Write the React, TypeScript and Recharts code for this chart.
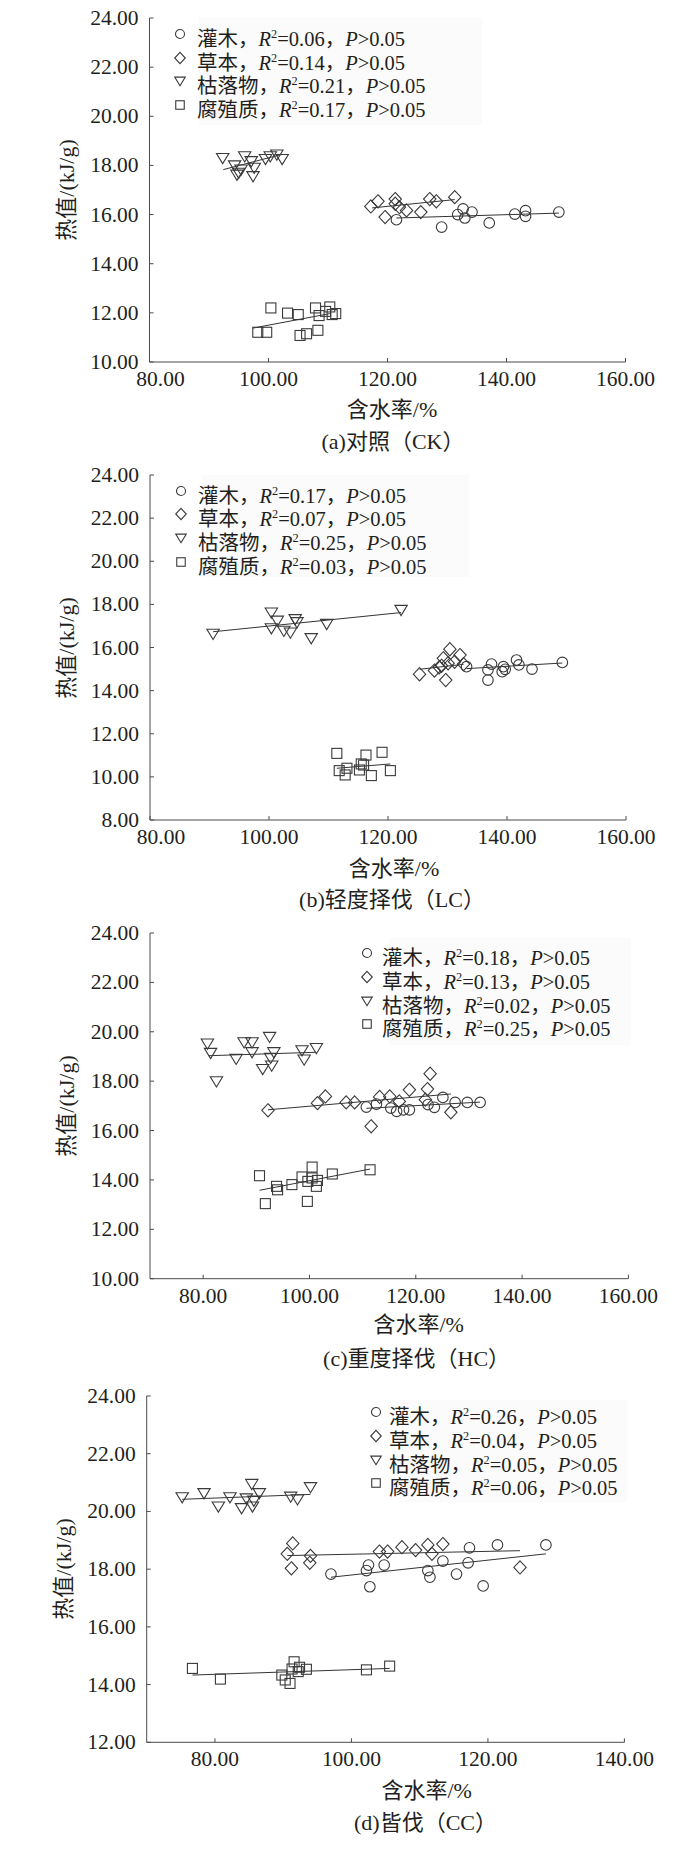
import React from 'react';
import { ScatterChart, Scatter, XAxis, YAxis, ReferenceLine } from 'recharts';

const FONT = "'Liberation Serif','Times New Roman','Noto Sans CJK SC',serif";
const INK = '#231f20';
const AXIS = '#4a4a4a';
const MARK = '#3a3a3a';

type Pt = { x: number; y: number };

// ---------- series names ----------
const SERIES_NAMES = ['灌木', '草本', '枯落物', '腐殖质'];

// ---------- (a) CK ----------
const CK_SHRUB: Pt[] = [
  { x: 121.5, y: 15.79 }, { x: 129.1, y: 15.49 }, { x: 131.8, y: 16.0 }, { x: 132.7, y: 16.23 },
  { x: 133.0, y: 15.86 }, { x: 134.2, y: 16.1 }, { x: 137.1, y: 15.66 }, { x: 141.4, y: 16.02 },
  { x: 143.2, y: 16.16 }, { x: 143.2, y: 15.93 }, { x: 148.8, y: 16.1 },
];
const CK_HERB: Pt[] = [
  { x: 117.2, y: 16.33 }, { x: 118.4, y: 16.54 }, { x: 119.6, y: 15.9 }, { x: 121.3, y: 16.63 },
  { x: 121.3, y: 16.44 }, { x: 122.0, y: 16.3 }, { x: 123.2, y: 16.17 }, { x: 125.6, y: 16.1 },
  { x: 127.1, y: 16.63 }, { x: 128.2, y: 16.54 }, { x: 131.3, y: 16.71 },
];
const CK_LITTER: Pt[] = [
  { x: 92.3, y: 18.3 }, { x: 94.3, y: 18.0 }, { x: 94.7, y: 17.62 }, { x: 95.0, y: 17.7 },
  { x: 95.4, y: 17.83 }, { x: 96.0, y: 18.37 }, { x: 97.1, y: 18.17 }, { x: 97.4, y: 17.56 },
  { x: 97.6, y: 17.9 }, { x: 99.5, y: 18.26 }, { x: 100.3, y: 18.37 }, { x: 101.4, y: 18.44 },
  { x: 102.3, y: 18.26 },
];
const CK_HUMUS: Pt[] = [
  { x: 98.2, y: 11.21 }, { x: 99.7, y: 11.21 }, { x: 100.4, y: 12.2 }, { x: 103.2, y: 11.99 },
  { x: 105.0, y: 11.93 }, { x: 105.3, y: 11.08 }, { x: 106.4, y: 11.15 }, { x: 107.9, y: 12.2 },
  { x: 108.3, y: 11.29 }, { x: 108.5, y: 11.89 }, { x: 109.6, y: 12.06 }, { x: 110.3, y: 12.24 },
  { x: 110.7, y: 11.93 }, { x: 111.3, y: 11.97 },
];
// trend lines: [x1, y1, x2, y2] for shrub, herb, litter, humus
const CK_TRENDS = [
  [121.5, 15.86, 148.8, 16.06],
  [117.4, 16.27, 131.3, 16.61],
  [92.4, 17.83, 102.1, 18.44],
  [97.4, 11.38, 110.3, 11.97],
];
const CK_R2 = ['0.06', '0.14', '0.21', '0.17'];

// ---------- (b) LC ----------
const LC_SHRUB: Pt[] = [
  { x: 133.2, y: 15.11 }, { x: 136.8, y: 14.49 }, { x: 136.8, y: 14.96 }, { x: 137.4, y: 15.23 },
  { x: 139.2, y: 14.88 }, { x: 139.4, y: 15.11 }, { x: 139.7, y: 14.99 }, { x: 141.6, y: 15.42 },
  { x: 142.0, y: 15.19 }, { x: 144.2, y: 15.0 }, { x: 149.3, y: 15.31 },
];
const LC_HERB: Pt[] = [
  { x: 125.3, y: 14.76 }, { x: 127.8, y: 14.93 }, { x: 128.6, y: 15.08 }, { x: 129.0, y: 15.15 },
  { x: 129.3, y: 15.5 }, { x: 129.7, y: 14.49 }, { x: 130.1, y: 15.27 }, { x: 130.4, y: 15.92 },
  { x: 131.2, y: 15.34 }, { x: 132.1, y: 15.65 }, { x: 132.7, y: 15.23 },
];
const LC_LITTER: Pt[] = [
  { x: 90.6, y: 16.63 }, { x: 100.4, y: 17.62 }, { x: 100.4, y: 16.89 }, { x: 101.4, y: 17.24 },
  { x: 102.5, y: 16.77 }, { x: 103.6, y: 16.69 }, { x: 104.4, y: 17.31 }, { x: 104.7, y: 17.17 },
  { x: 107.1, y: 16.43 }, { x: 109.7, y: 17.09 }, { x: 122.2, y: 17.74 },
];
const LC_HUMUS: Pt[] = [
  { x: 111.4, y: 11.09 }, { x: 111.8, y: 10.29 }, { x: 112.8, y: 10.09 }, { x: 113.1, y: 10.4 },
  { x: 115.2, y: 10.32 }, { x: 115.5, y: 10.6 }, { x: 115.9, y: 10.55 }, { x: 116.3, y: 11.01 },
  { x: 117.2, y: 10.06 }, { x: 119.0, y: 11.14 }, { x: 120.4, y: 10.29 },
];
const LC_TRENDS = [
  [133.2, 15.02, 149.3, 15.28],
  [125.3, 14.99, 132.7, 15.22],
  [90.6, 16.73, 122.2, 17.62],
  [111.4, 10.4, 120.4, 10.6],
];
const LC_R2 = ['0.17', '0.07', '0.25', '0.03'];

// ---------- (c) HC ----------
const HC_SHRUB: Pt[] = [
  { x: 110.7, y: 16.95 }, { x: 112.6, y: 17.07 }, { x: 115.3, y: 16.91 }, { x: 116.4, y: 16.78 },
  { x: 117.7, y: 16.84 }, { x: 118.8, y: 16.84 }, { x: 122.3, y: 17.05 }, { x: 123.5, y: 16.94 },
  { x: 125.1, y: 17.34 }, { x: 127.4, y: 17.14 }, { x: 129.7, y: 17.14 }, { x: 132.1, y: 17.14 },
];
const HC_HERB: Pt[] = [
  { x: 92.2, y: 16.82 }, { x: 101.5, y: 17.11 }, { x: 103.0, y: 17.38 }, { x: 106.9, y: 17.14 },
  { x: 108.5, y: 17.14 }, { x: 111.6, y: 16.17 }, { x: 113.2, y: 17.36 }, { x: 115.1, y: 17.38 },
  { x: 116.9, y: 17.18 }, { x: 118.8, y: 17.65 }, { x: 121.8, y: 17.25 }, { x: 122.2, y: 17.68 },
  { x: 122.7, y: 18.3 }, { x: 126.6, y: 16.74 },
];
const HC_LITTER: Pt[] = [
  { x: 80.8, y: 19.52 }, { x: 81.4, y: 19.14 }, { x: 82.5, y: 17.99 }, { x: 86.2, y: 18.9 },
  { x: 87.7, y: 19.57 }, { x: 89.2, y: 19.57 }, { x: 89.2, y: 19.17 }, { x: 91.2, y: 18.49 },
  { x: 92.5, y: 19.79 }, { x: 92.7, y: 18.94 }, { x: 92.9, y: 18.63 }, { x: 93.3, y: 19.17 },
  { x: 98.6, y: 19.25 }, { x: 99.0, y: 18.87 }, { x: 101.3, y: 19.34 },
];
const HC_HUMUS: Pt[] = [
  { x: 90.6, y: 14.17 }, { x: 91.7, y: 13.04 }, { x: 93.8, y: 13.74 }, { x: 94.0, y: 13.6 },
  { x: 96.7, y: 13.81 }, { x: 98.6, y: 14.12 }, { x: 99.6, y: 13.13 }, { x: 99.7, y: 13.94 },
  { x: 100.5, y: 14.52 }, { x: 100.5, y: 14.08 }, { x: 101.3, y: 13.74 }, { x: 101.5, y: 13.98 },
  { x: 104.3, y: 14.24 }, { x: 111.4, y: 14.41 },
];
const HC_TRENDS = [
  [110.7, 16.9, 132.1, 17.15],
  [92.2, 16.84, 126.6, 17.48],
  [81.0, 19.03, 101.3, 19.17],
  [90.6, 13.58, 111.4, 14.44],
];
const HC_R2 = ['0.18', '0.13', '0.02', '0.25'];

// ---------- (d) CC ----------
const CC_SHRUB: Pt[] = [
  { x: 97.0, y: 17.83 }, { x: 102.2, y: 17.95 }, { x: 102.5, y: 18.14 }, { x: 102.7, y: 17.39 },
  { x: 104.8, y: 18.14 }, { x: 111.2, y: 17.95 }, { x: 111.5, y: 17.72 }, { x: 113.4, y: 18.28 },
  { x: 115.4, y: 17.83 }, { x: 117.1, y: 18.22 }, { x: 117.3, y: 18.74 }, { x: 119.3, y: 17.42 },
  { x: 121.4, y: 18.84 }, { x: 128.5, y: 18.84 },
];
const CC_HERB: Pt[] = [
  { x: 90.6, y: 18.53 }, { x: 91.2, y: 18.03 }, { x: 91.4, y: 18.89 }, { x: 93.9, y: 18.22 },
  { x: 94.0, y: 18.46 }, { x: 104.1, y: 18.61 }, { x: 105.3, y: 18.61 }, { x: 107.4, y: 18.76 },
  { x: 109.4, y: 18.66 }, { x: 111.2, y: 18.84 }, { x: 111.8, y: 18.53 }, { x: 113.4, y: 18.87 },
  { x: 124.7, y: 18.06 },
];
const CC_LITTER: Pt[] = [
  { x: 75.2, y: 20.49 }, { x: 78.4, y: 20.63 }, { x: 80.5, y: 20.17 }, { x: 82.2, y: 20.49 },
  { x: 83.9, y: 20.11 }, { x: 84.6, y: 20.45 }, { x: 85.4, y: 20.95 }, { x: 85.5, y: 20.17 },
  { x: 85.7, y: 20.37 }, { x: 86.5, y: 20.63 }, { x: 91.1, y: 20.51 }, { x: 92.1, y: 20.42 },
  { x: 94.0, y: 20.84 },
];
const CC_HUMUS: Pt[] = [
  { x: 76.7, y: 14.56 }, { x: 80.8, y: 14.19 }, { x: 89.8, y: 14.33 }, { x: 90.3, y: 14.16 },
  { x: 91.0, y: 14.04 }, { x: 91.3, y: 14.54 }, { x: 91.6, y: 14.79 }, { x: 92.2, y: 14.45 },
  { x: 92.4, y: 14.6 }, { x: 93.4, y: 14.53 }, { x: 102.2, y: 14.51 }, { x: 105.6, y: 14.64 },
];
const CC_TRENDS = [
  [97.0, 17.72, 128.5, 18.53],
  [90.6, 18.47, 124.7, 18.64],
  [75.2, 20.42, 94.0, 20.59],
  [76.7, 14.33, 105.6, 14.56],
];
const CC_R2 = ['0.26', '0.04', '0.05', '0.06'];

// ---------- axes ----------
const X_TICKS_AB = [80, 100, 120, 140, 160];
const X_TICKS_C = [80, 100, 120, 140, 160];
const X_TICKS_D = [80, 100, 120, 140];
const Y_TICKS_A = [10, 12, 14, 16, 18, 20, 22, 24];
const Y_TICKS_B = [8, 10, 12, 14, 16, 18, 20, 22, 24];
const Y_TICKS_C = [10, 12, 14, 16, 18, 20, 22, 24];
const Y_TICKS_D = [12, 14, 16, 18, 20, 22, 24];

const Y_LABEL = '热值/(kJ/g)';
const X_LABEL = '含水率/%';
const CAPTIONS = ['(a)对照（CK）', '(b)轻度择伐（LC）', '(c)重度择伐（HC）', '(d)皆伐（CC）'];

// ---------- marker shapes ----------
type ShapeKind = 'circle' | 'diamond' | 'triangle' | 'square';
const KINDS: ShapeKind[] = ['circle', 'diamond', 'triangle', 'square'];

function Marker({ kind, cx, cy, s = 1 }: { kind: ShapeKind; cx: number; cy: number; s?: number }) {
  const common = { fill: 'none', stroke: MARK, strokeWidth: 1.1 };
  if (kind === 'circle') return <circle cx={cx} cy={cy} r={5.3 * s} {...common} />;
  if (kind === 'diamond') {
    const w = 6.2 * s, h = 6.6 * s;
    return <polygon points={`${cx},${cy - h} ${cx + w},${cy} ${cx},${cy + h} ${cx - w},${cy}`} {...common} />;
  }
  if (kind === 'triangle') {
    const w = 6.2 * s;
    return <polygon points={`${cx - w},${cy - 4.6 * s} ${cx + w},${cy - 4.6 * s} ${cx},${cy + 5.6 * s}`} {...common} />;
  }
  const h = 5 * s;
  return <rect x={cx - h} y={cy - h} width={2 * h} height={2 * h} {...common} />;
}

type PanelCfg = {
  series: Pt[][];
  trends: number[][];
  r2: string[];
  xDomain: [number, number];
  xTicks: number[];
  yDomain: [number, number];
  yTicks: number[];
  plotLeft: number;
  plotRight: number;
  plotTop: number;
  plotBottom: number;
  legendMarkerX: number;
  legendTextX: number;
  legendRows: number[];
  legendBox: [number, number, number, number];
  yLabel: [number, number];
  xLabel: [number, number];
  caption: [number, number];
  captionText: string;
};

const PANELS: PanelCfg[] = [
  {
    series: [CK_SHRUB, CK_HERB, CK_LITTER, CK_HUMUS], trends: CK_TRENDS, r2: CK_R2,
    xDomain: [80, 160], xTicks: X_TICKS_AB, yDomain: [10, 24], yTicks: Y_TICKS_A,
    plotLeft: 149.5, plotRight: 625.5, plotTop: 18.3, plotBottom: 362.3,
    legendMarkerX: 180, legendTextX: 197, legendRows: [34, 57.5, 81, 104.5],
    legendBox: [199, 18, 482, 125],
    yLabel: [67, 190], xLabel: [392, 410], caption: [393, 441.7], captionText: CAPTIONS[0],
  },
  {
    series: [LC_SHRUB, LC_HERB, LC_LITTER, LC_HUMUS], trends: LC_TRENDS, r2: LC_R2,
    xDomain: [80, 160], xTicks: X_TICKS_AB, yDomain: [8, 24], yTicks: Y_TICKS_B,
    plotLeft: 150, plotRight: 626, plotTop: 475, plotBottom: 820,
    legendMarkerX: 181, legendTextX: 198, legendRows: [491, 514.3, 538.3, 561.7],
    legendBox: [202, 475, 469, 577],
    yLabel: [67, 647.5], xLabel: [394, 869.3], caption: [392, 900], captionText: CAPTIONS[1],
  },
  {
    series: [HC_SHRUB, HC_HERB, HC_LITTER, HC_HUMUS], trends: HC_TRENDS, r2: HC_R2,
    xDomain: [70, 160], xTicks: X_TICKS_C, yDomain: [10, 24], yTicks: Y_TICKS_C,
    plotLeft: 150, plotRight: 628.4, plotTop: 933.3, plotBottom: 1279,
    legendMarkerX: 366.7, legendTextX: 382, legendRows: [953.3, 976.7, 1000.7, 1024.3],
    legendBox: [389, 938, 631, 1045],
    yLabel: [67, 1106], xLabel: [418.7, 1325], caption: [416.6, 1359.3], captionText: CAPTIONS[2],
  },
  {
    series: [CC_SHRUB, CC_HERB, CC_LITTER, CC_HUMUS], trends: CC_TRENDS, r2: CC_R2,
    xDomain: [70, 140], xTicks: X_TICKS_D, yDomain: [12, 24], yTicks: Y_TICKS_D,
    plotLeft: 146.7, plotRight: 624.4, plotTop: 1396, plotBottom: 1742.3,
    legendMarkerX: 375.6, legendTextX: 389, legendRows: [1412.3, 1436, 1460, 1483.3],
    legendBox: [400, 1400, 627, 1502],
    yLabel: [64.4, 1569], xLabel: [426.7, 1790.7], caption: [425.5, 1823.3], captionText: CAPTIONS[3],
  },
];

const XH = 30;
const TICK_FS = 21.5;
const PAD = 24;

function Panel({ cfg }: { cfg: PanelCfg }) {
  const chartTop = cfg.plotTop - PAD;
  const chartHeight = cfg.plotBottom - chartTop + XH + PAD;
  const margin = { top: PAD, right: 694 - cfg.plotRight, left: 0, bottom: PAD };

  const xTick = (p: any) => {
    const v = p.payload.value as number;
    const dx = v === cfg.xDomain[0] ? 11 : 0;
    return (
      <g>
        <line x1={p.x} x2={p.x} y1={p.y} y2={p.y - 4} stroke={AXIS} strokeWidth={1} />
        <text x={p.x + dx} y={p.y + 24} textAnchor="middle" fontFamily={FONT} fontSize={TICK_FS} fill={INK}>
          {v.toFixed(2)}
        </text>
      </g>
    );
  };
  const yTick = (p: any) => {
    const v = p.payload.value as number;
    return (
      <g>
        <line x1={p.x} x2={p.x + 4} y1={p.y} y2={p.y} stroke={AXIS} strokeWidth={1} />
        <text x={p.x - 11} y={p.y + 7} textAnchor="end" fontFamily={FONT} fontSize={TICK_FS} fill={INK}>
          {v.toFixed(2)}
        </text>
      </g>
    );
  };

  return (
    <div style={{ position: 'absolute', left: 0, top: chartTop, width: 694, height: chartHeight }}>
      <ScatterChart width={694} height={chartHeight} margin={margin}>
        <XAxis
          type="number"
          dataKey="x"
          domain={cfg.xDomain}
          ticks={cfg.xTicks}
          interval={0}
          height={XH}
          tickSize={0}
          tickMargin={0}
          tickLine={false}
          axisLine={{ stroke: AXIS, strokeWidth: 1 }}
          tick={xTick}
          allowDataOverflow
        />
        <YAxis
          type="number"
          dataKey="y"
          domain={cfg.yDomain}
          ticks={cfg.yTicks}
          interval={0}
          width={cfg.plotLeft}
          tickSize={0}
          tickMargin={0}
          tickLine={false}
          axisLine={{ stroke: AXIS, strokeWidth: 1 }}
          tick={yTick}
          allowDataOverflow
        />
        {cfg.trends.map((t, i) => (
          <ReferenceLine
            key={'t' + i}
            segment={[{ x: t[0], y: t[1] }, { x: t[2], y: t[3] }]}
            stroke="#333"
            strokeWidth={1}
            ifOverflow="visible"
          />
        ))}
        {cfg.series.map((data, i) => (
          <Scatter
            key={'s' + i}
            name={SERIES_NAMES[i]}
            data={data}
            isAnimationActive={false}
            shape={(p: any) => <Marker kind={KINDS[i]} cx={p.cx} cy={p.cy} />}
          />
        ))}
      </ScatterChart>
    </div>
  );
}

function Legend({ cfg }: { cfg: PanelCfg }) {
  const [bx0, by0, bx1, by1] = cfg.legendBox;
  return (
    <>
      <div style={{ position: 'absolute', left: bx0, top: by0, width: bx1 - bx0, height: by1 - by0, background: '#fbfbfb' }} />
      {SERIES_NAMES.map((name, i) => {
        const cy = cfg.legendRows[i];
        return (
          <React.Fragment key={name}>
            <svg style={{ position: 'absolute', left: cfg.legendMarkerX - 8, top: cy - 8 }} width={16} height={16}>
              <Marker kind={KINDS[i]} cx={8} cy={8} s={0.85} />
            </svg>
            <div
              style={{
                position: 'absolute', left: cfg.legendTextX, top: cy - 12, height: 24, lineHeight: '24px',
                fontFamily: FONT, fontSize: 20.5, color: INK, whiteSpace: 'nowrap',
              }}
            >
              {name}，<i>R</i>
              <span style={{ fontSize: '0.6em', verticalAlign: '0.65em' }}>2</span>={cfg.r2[i]}，<i>P</i>&gt;0.05
            </div>
          </React.Fragment>
        );
      })}
    </>
  );
}

function centered(x: number, y: number, text: string, rotate = false) {
  return (
    <div
      style={{
        position: 'absolute', left: x, top: y, transform: `translate(-50%, -50%)${rotate ? ' rotate(-90deg)' : ''}`,
        fontFamily: FONT, fontSize: 22, color: INK, whiteSpace: 'nowrap', lineHeight: '26px',
      }}
    >
      {text}
    </div>
  );
}

export default function App() {
  return (
    <div style={{ position: 'absolute', left: 0, top: 0, width: 694, height: 1854, background: '#fff', overflow: 'hidden' }}>
      {PANELS.map((cfg, i) => (
        <React.Fragment key={i}>
          <Legend cfg={cfg} />
          <Panel cfg={cfg} />
          {centered(cfg.yLabel[0], cfg.yLabel[1], Y_LABEL, true)}
          {centered(cfg.xLabel[0], cfg.xLabel[1], X_LABEL)}
          {centered(cfg.caption[0], cfg.caption[1], cfg.captionText)}
        </React.Fragment>
      ))}
    </div>
  );
}
